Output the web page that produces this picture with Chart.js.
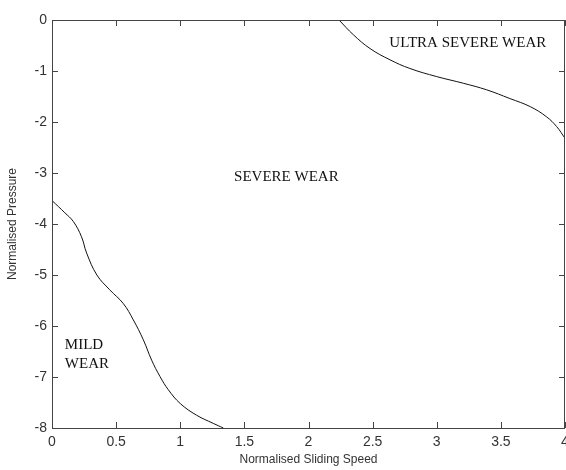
<!DOCTYPE html>
<html>
<head>
<meta charset="utf-8">
<script src="https://cdn.jsdelivr.net/npm/chart.js"></script>
<style>
    html, body { margin: 0; padding: 0; background: #fff; }
    #wrap { width: 566px; height: 470px; }
</style>
</head>
<body>
<div id="wrap"><canvas id="chart"></canvas></div>
<script>
    // boundary between mild and severe wear
    const mildX = [0, 0.10, 0.166, 0.23, 0.27, 0.35, 0.45, 0.556, 0.634, 0.712, 0.777, 0.842, 0.907, 1.0, 1.128, 1.258, 1.336];
    const mildY = [-3.54, -3.78, -3.95, -4.25, -4.57, -5.0, -5.29, -5.56, -5.88, -6.27, -6.67, -6.99, -7.25, -7.52, -7.75, -7.91, -8.0];

    // boundary between severe and ultra severe wear
    const ultraX = [2.238, 2.35, 2.48, 2.635, 2.79, 3.0, 3.207, 3.39, 3.57, 3.73, 3.857, 3.935, 4.0];
    const ultraY = [0, -0.29, -0.56, -0.78, -0.95, -1.11, -1.24, -1.37, -1.54, -1.70, -1.90, -2.09, -2.32];

    const regionNames = ['ULTRA SEVERE WEAR', 'SEVERE WEAR', 'MILD', 'WEAR'];
    const regionX = [2.63, 1.42, 0.10, 0.10];
    const regionY = [-0.45, -3.08, -6.37, -6.75];

    const xTicks = [0, 0.5, 1, 1.5, 2, 2.5, 3, 3.5, 4];
    const yTicks = [0, -1, -2, -3, -4, -5, -6, -7, -8];

    function toPoints(xs, ys) {
        return xs.map((x, i) => ({ x: x, y: ys[i] }));
    }

    const axisColor = '#444';

    // matlab style box with inward ticks
    const boxPlugin = {
        id: 'box',
        afterDatasetsDraw(chart) {
            const { ctx, chartArea: a, scales } = chart;
            const len = 6;
            ctx.save();
            ctx.strokeStyle = axisColor;
            ctx.lineWidth = 1;
            ctx.strokeRect(a.left + 0.5, a.top + 0.5, a.right - a.left - 1, a.bottom - a.top);
            ctx.beginPath();
            xTicks.forEach(v => {
                const px = Math.round(scales.x.getPixelForValue(v)) + 0.5;
                ctx.moveTo(px, a.bottom); ctx.lineTo(px, a.bottom - len);
                ctx.moveTo(px, a.top); ctx.lineTo(px, a.top + len);
            });
            yTicks.forEach(v => {
                const py = Math.round(scales.y.getPixelForValue(v)) + 0.5;
                ctx.moveTo(a.left, py); ctx.lineTo(a.left + len, py);
                ctx.moveTo(a.right, py); ctx.lineTo(a.right - len, py);
            });
            ctx.stroke();

            ctx.fillStyle = '#111';
            ctx.font = '15px "Liberation Serif", serif';
            ctx.textBaseline = 'middle';
            ctx.textAlign = 'left';
            regionNames.forEach((t, i) => {
                ctx.fillText(t, scales.x.getPixelForValue(regionX[i]), scales.y.getPixelForValue(regionY[i]));
            });
            ctx.restore();
        }
    };

    const tickFont = { family: '"Liberation Sans", Arial, sans-serif', size: 14 };
    const titleFont = { family: '"Liberation Sans", Arial, sans-serif', size: 12 };

    new Chart(document.getElementById('chart'), {
        type: 'scatter',
        data: {
            datasets: [{
                data: toPoints(mildX, mildY),
                showLine: true,
                borderColor: '#111',
                borderWidth: 1,
                pointRadius: 0,
                tension: 0.4
            }, {
                data: toPoints(ultraX, ultraY),
                showLine: true,
                borderColor: '#111',
                borderWidth: 1,
                pointRadius: 0,
                tension: 0.4
            }]
        },
        options: {
            responsive: true,
            maintainAspectRatio: false,
            animation: false,
            layout: { padding: { top: 20, right: 1, left: 0, bottom: 0 } },
            plugins: {
                legend: { display: false },
                tooltip: { enabled: false }
            },
            scales: {
                x: {
                    type: 'linear',
                    min: 0,
                    max: 4,
                    grid: { display: false, drawTicks: false },
                    border: { display: false },
                    afterBuildTicks: s => { s.ticks = xTicks.map(v => ({ value: v })); },
                    afterFit: s => { s.height = 42; s.paddingLeft = 0; s.paddingRight = 0; },
                    ticks: {
                        padding: 6,
                        color: '#333',
                        maxRotation: 0,
                        autoSkip: false,
                        font: tickFont,
                        callback: v => String(v)
                    },
                    title: {
                        display: true,
                        text: 'Normalised Sliding Speed',
                        color: '#333',
                        padding: { top: 0, bottom: 3 },
                        font: titleFont
                    }
                },
                y: {
                    type: 'linear',
                    min: -8,
                    max: 0,
                    grid: { display: false, drawTicks: false },
                    border: { display: false },
                    afterBuildTicks: s => { s.ticks = yTicks.slice().reverse().map(v => ({ value: v })); },
                    afterFit: s => { s.width = 52; s.paddingTop = 0; s.paddingBottom = 0; },
                    ticks: {
                        padding: 5,
                        color: '#333',
                        autoSkip: false,
                        font: tickFont,
                        callback: v => String(v)
                    },
                    title: {
                        display: true,
                        text: 'Normalised Pressure',
                        color: '#333',
                        padding: { top: 5, bottom: 0 },
                        font: titleFont
                    }
                }
            }
        },
        plugins: [boxPlugin]
    });
</script>
</body>
</html>
